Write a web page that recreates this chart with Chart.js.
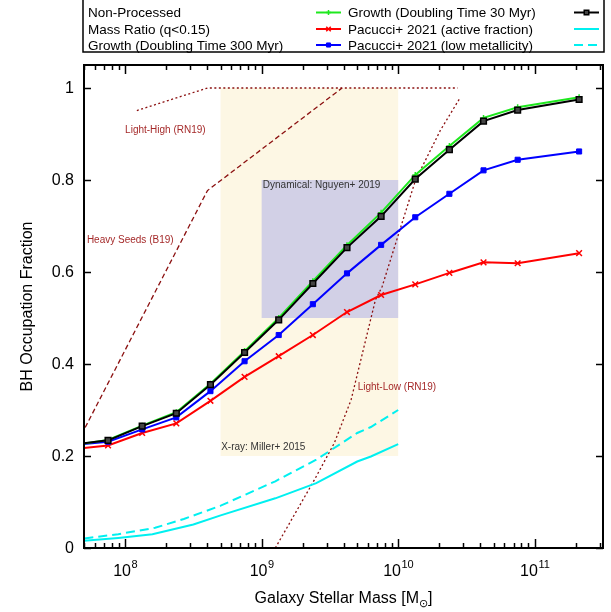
<!DOCTYPE html>
<html>
<head>
<meta charset="utf-8">
<script src="https://cdn.jsdelivr.net/npm/chart.js"></script>
<style>
  html, body { margin: 0; padding: 0; background: #fff; }
</style>
</head>
<body>
<canvas id="chart" width="611" height="612"></canvas>
<script>
// stellar mass bins, log10(M*/Msun)
const logMass = [7.625, 7.875, 8.125, 8.375, 8.625, 8.875, 9.125, 9.375, 9.625, 9.875, 10.125, 10.375, 10.625, 10.875, 11.325];

const nonProcessed = [0.224, 0.235, 0.266, 0.295, 0.357, 0.428, 0.500, 0.580, 0.658, 0.729, 0.811, 0.874, 0.935, 0.958, 0.980];
const massRatio    = [0.215, 0.223, 0.250, 0.271, 0.320, 0.372, 0.417, 0.463, 0.513, 0.550, 0.573, 0.598, 0.621, 0.619, 0.641];
const growth300    = [0.224, 0.231, 0.258, 0.284, 0.341, 0.406, 0.463, 0.530, 0.597, 0.659, 0.719, 0.770, 0.821, 0.844, 0.862];
const growth30     = [0.225, 0.234, 0.265, 0.293, 0.355, 0.425, 0.496, 0.575, 0.653, 0.721, 0.802, 0.866, 0.928, 0.952, 0.975];

// Pacucci+ 2021 curves
const pacActiveLogM = [7.6, 7.95, 8.2, 8.5, 8.7, 9.1, 9.4, 9.7, 9.8, 10.0];
const pacActive     = [0.013, 0.022, 0.030, 0.051, 0.071, 0.108, 0.141, 0.188, 0.199, 0.226];
const pacLowZLogM   = [7.6, 7.95, 8.22, 8.43, 8.7, 9.1, 9.4, 9.7, 9.8, 10.0];
const pacLowZ       = [0.017, 0.030, 0.044, 0.063, 0.092, 0.145, 0.192, 0.250, 0.263, 0.300];

// seeding models (RN19, B19)
const lightHighLogM = [8.086, 8.603, 10.436];
const lightHigh     = [0.951, 1.0, 1.0];
const heavySeedLogM = [7.6, 8.603, 9.589];
const heavySeed     = [0.200, 0.777, 1.0];
const lightLowLogM  = [9.1, 9.386, 9.532, 9.655, 9.833, 9.882, 10.126, 10.309, 10.456];
const lightLow      = [0.0, 0.148, 0.228, 0.322, 0.539, 0.568, 0.799, 0.908, 0.980];

// observational constraints: [xmin, xmax, ymin, ymax]
const xrayBox = [5e8, 1e10, 0.2, 1.0];
const dynBox  = [1e9, 1e10, 0.5, 0.8];

// axes
const xMajorExp = [8, 9, 10, 11];
const yTicks = [0, 0.2, 0.4, 0.6, 0.8, 1];
const yTickLabels = ['0', '0.2', '0.4', '0.6', '0.8', '1'];

const FONT = "'Liberation Sans', Arial, sans-serif";

function pts(logs, vals) {
  return logs.map((m, i) => ({ x: Math.pow(10, m), y: vals[i] }));
}

function series(label, logs, vals, color, style, order) {
  return Object.assign({
    label: label,
    data: pts(logs, vals),
    borderColor: color,
    backgroundColor: color,
    borderWidth: 2,
    pointRadius: 0,
    tension: 0,
    order: order
  }, style);
}

const datasets = [
  series('Non-Processed', logMass, nonProcessed, '#1ee81e',
    { pointStyle: 'cross', pointRadius: 3, pointBorderWidth: 1.5 }, 1),
  series('Mass Ratio (q<0.15)', logMass, massRatio, '#ff0000',
    { pointStyle: 'crossRot', pointRadius: 4, pointBorderWidth: 1.5 }, 3),
  series('Growth (Doubling Time 300 Myr)', logMass, growth300, '#0000ff',
    { pointStyle: 'rect', pointRadius: 3.6, pointBorderWidth: 1 }, 2),
  series('Growth (Doubling Time 30 Myr)', logMass, growth30, '#000000',
    { pointStyle: 'rect', pointRadius: 4, pointBorderWidth: 1.5, pointBackgroundColor: '#444' }, 0),
  series('Pacucci+ 2021 (active fraction)', pacActiveLogM, pacActive, '#00f0f0', {}, 4),
  series('Pacucci+ 2021 (low metallicity)', pacLowZLogM, pacLowZ, '#00f0f0', { borderDash: [9, 5] }, 5),
  series('Light-High (RN19)', lightHighLogM, lightHigh, '#8b1010', { borderWidth: 1.3, borderDash: [2, 2.5] }, 6),
  series('Heavy Seeds (B19)', heavySeedLogM, heavySeed, '#8b1010', { borderWidth: 1.3, borderDash: [5, 3] }, 7),
  series('Light-Low (RN19)', lightLowLogM, lightLow, '#8b1010', { borderWidth: 1.3, borderDash: [2, 2.5] }, 8)
];

// legend layout: two columns, three rows
const legendCols = [
  ['Non-Processed', 'Mass Ratio (q<0.15)', 'Growth (Doubling Time 300 Myr)'],
  ['Growth (Doubling Time 30 Myr)', 'Pacucci+ 2021 (active fraction)', 'Pacucci+ 2021 (low metallicity)']
];

const annotations = [
  { text: 'Light-High (RN19)', x: 1.0e8, y: 0.908, color: '#a52a2a' },
  { text: 'Heavy Seeds (B19)', x: 5.25e7, y: 0.669, color: '#a52a2a' },
  { text: 'Light-Low (RN19)', x: 5.05e9, y: 0.349, color: '#a52a2a' },
  { text: 'Dynamical: Nguyen+ 2019', x: 1.02e9, y: 0.788, color: '#333' },
  { text: 'X-ray: Miller+ 2015', x: 5.05e8, y: 0.22, color: '#333' }
];

function drawBox(ctx, xs, ys, b, color) {
  const x0 = xs.getPixelForValue(b[0]), x1 = xs.getPixelForValue(b[1]);
  const y0 = ys.getPixelForValue(b[3]), y1 = ys.getPixelForValue(b[2]);
  ctx.fillStyle = color;
  ctx.fillRect(x0, y0, x1 - x0, y1 - y0);
}

function line(ctx, x0, y0, x1, y1) {
  ctx.beginPath();
  ctx.moveTo(x0, y0);
  ctx.lineTo(x1, y1);
  ctx.stroke();
}

const decor = {
  id: 'decor',
  beforeDatasetsDraw(chart) {
    const ctx = chart.ctx, xs = chart.scales.x, ys = chart.scales.y;
    ctx.save();
    drawBox(ctx, xs, ys, xrayBox, '#fdf7e4');
    drawBox(ctx, xs, ys, dynBox, '#d2d0e6');
    ctx.restore();
  },
  afterDatasetsDraw(chart) {
    const ctx = chart.ctx, xs = chart.scales.x, ys = chart.scales.y;
    const { left, right, top, bottom } = chart.chartArea;
    ctx.save();

    // text annotations
    ctx.font = '10px ' + FONT;
    ctx.textBaseline = 'middle';
    ctx.textAlign = 'left';
    annotations.forEach(a => {
      ctx.fillStyle = a.color;
      ctx.fillText(a.text, xs.getPixelForValue(a.x), ys.getPixelForValue(a.y));
    });

    // frame
    ctx.strokeStyle = '#000';
    ctx.lineWidth = 2;
    ctx.strokeRect(left, top, right - left, bottom - top);

    // x ticks (log, inward, mirrored)
    ctx.lineWidth = 1.5;
    for (let e = 7; e <= 11; e++) {
      for (let k = 1; k <= 9; k++) {
        const v = k * Math.pow(10, e);
        if (v < xs.min || v > xs.max) continue;
        const px = Math.round(xs.getPixelForValue(v)) + 0.5;
        const len = k === 1 ? 9 : 5;
        line(ctx, px, bottom, px, bottom - len);
        line(ctx, px, top, px, top + len);
      }
    }
    // y ticks
    yTicks.forEach(v => {
      const py = Math.round(ys.getPixelForValue(v)) + 0.5;
      line(ctx, left, py, left + 7, py);
      line(ctx, right, py, right - 7, py);
    });

    // y tick labels
    ctx.fillStyle = '#000';
    ctx.font = '16px ' + FONT;
    ctx.textAlign = 'right';
    ctx.textBaseline = 'middle';
    yTicks.forEach((v, i) => {
      ctx.fillText(yTickLabels[i], left - 10, ys.getPixelForValue(v) + 1);
    });

    // x tick labels 10^n
    ctx.textAlign = 'left';
    ctx.textBaseline = 'alphabetic';
    xMajorExp.forEach(e => {
      const px = xs.getPixelForValue(Math.pow(10, e));
      ctx.font = '16px ' + FONT;
      const wb = ctx.measureText('10').width;
      ctx.font = '11px ' + FONT;
      const we = ctx.measureText(String(e)).width;
      const x0 = px - (wb + we) / 2;
      ctx.font = '16px ' + FONT;
      ctx.fillText('10', x0, bottom + 28);
      ctx.font = '11px ' + FONT;
      ctx.fillText(String(e), x0 + wb + 0.5, bottom + 20);
    });

    // axis titles
    ctx.font = '16px ' + FONT;
    const t1 = 'Galaxy Stellar Mass [M', t2 = '\u2299', t3 = ']';
    const w1 = ctx.measureText(t1).width;
    const w3 = ctx.measureText(t3).width;
    ctx.font = '11px ' + FONT;
    const w2 = ctx.measureText(t2).width;
    let tx = (left + right) / 2 - (w1 + w2 + w3) / 2;
    const ty = bottom + 55;
    ctx.font = '16px ' + FONT;
    ctx.fillText(t1, tx, ty);
    ctx.font = '11px ' + FONT;
    ctx.fillText(t2, tx + w1, ty + 4);
    ctx.font = '16px ' + FONT;
    ctx.fillText(t3, tx + w1 + w2, ty);

    ctx.save();
    ctx.translate(28, (top + bottom) / 2);
    ctx.rotate(-Math.PI / 2);
    ctx.textAlign = 'center';
    ctx.textBaseline = 'middle';
    ctx.fillText('BH Occupation Fraction', 0, 0);
    ctx.restore();

    // legend
    ctx.lineWidth = 1.5;
    ctx.strokeStyle = '#000';
    ctx.strokeRect(83, -1, 521, 53);
    const rowY = [12.5, 29, 45];
    const colText = [88, 348];
    const colSample = [316, 574];
    ctx.font = '13.5px ' + FONT;
    ctx.textAlign = 'left';
    ctx.textBaseline = 'middle';
    legendCols.forEach((col, c) => {
      col.forEach((label, r) => {
        const ds = chart.data.datasets.find(d => d.label === label);
        const y = rowY[r];
        ctx.fillStyle = '#000';
        ctx.fillText(label, colText[c], y + 1);
        ctx.save();
        ctx.strokeStyle = ds.borderColor;
        ctx.lineWidth = ds.borderWidth;
        ctx.setLineDash(ds.borderDash || []);
        line(ctx, colSample[c], y, colSample[c] + 25, y);
        ctx.setLineDash([]);
        if (ds.pointRadius > 0) {
          ctx.fillStyle = ds.pointBackgroundColor || ds.backgroundColor;
          ctx.strokeStyle = ds.borderColor;
          ctx.lineWidth = ds.pointBorderWidth;
          Chart.helpers.drawPoint(ctx, {
            pointStyle: ds.pointStyle,
            radius: ds.pointRadius * 0.8,
            borderWidth: ds.pointBorderWidth,
            rotation: 0
          }, colSample[c] + 12.5, y);
        }
        ctx.restore();
      });
    });

    ctx.restore();
  }
};

new Chart(document.getElementById('chart'), {
  type: 'line',
  data: { datasets: datasets },
  options: {
    responsive: false,
    animation: false,
    devicePixelRatio: 1,
    layout: { padding: { left: 84, top: 65, right: 8, bottom: 64 } },
    elements: { line: { fill: false } },
    scales: {
      x: { type: 'logarithmic', min: 5e7, max: Math.pow(10, 11.5), display: false },
      y: { type: 'linear', min: 0, max: 1.05, display: false }
    },
    plugins: {
      legend: { display: false },
      tooltip: { enabled: false }
    }
  },
  plugins: [decor]
});
</script>
</body>
</html>
